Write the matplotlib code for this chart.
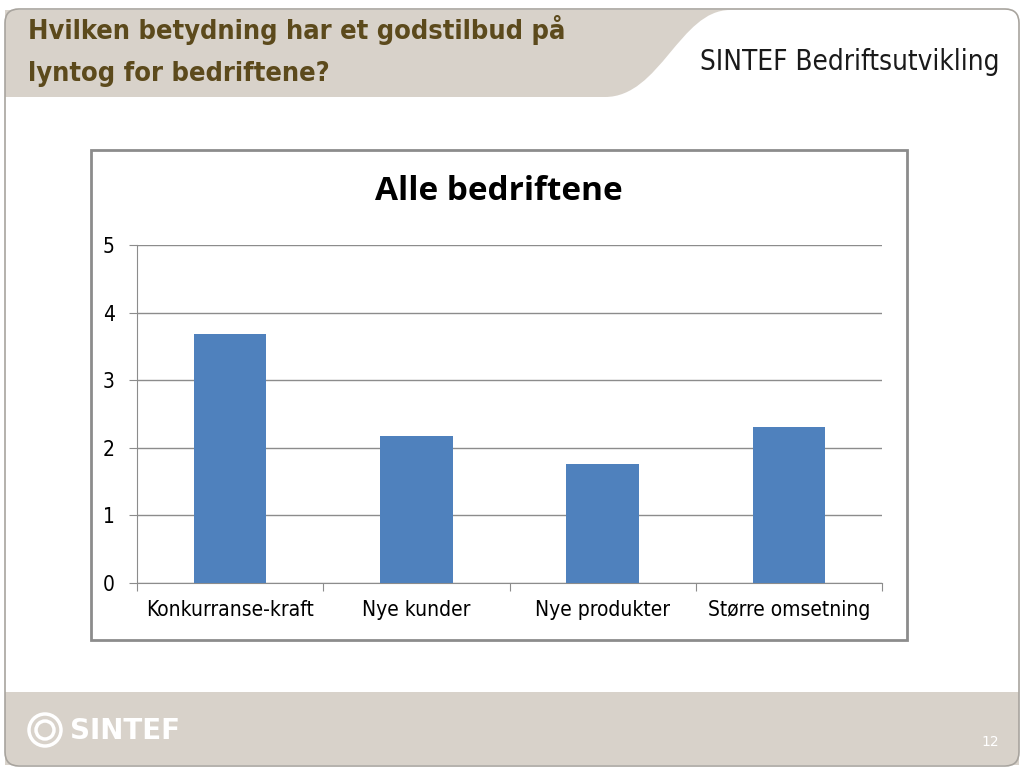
import matplotlib.pyplot as plt
from matplotlib.patches import FancyBboxPatch, Rectangle, Circle, PathPatch
from matplotlib.path import Path
import numpy as np

# data
categories = ['Konkurranse-kraft', 'Nye kunder', 'Nye produkter', 'Større omsetning']
values = [3.68, 2.17, 1.76, 2.31]
yticks = [0, 1, 2, 3, 4, 5]

slide_title = 'Hvilken betydning har et godstilbud på\nlyntog for bedriftene?'
chart_title = 'Alle bedriftene'

W, H = 1024, 771
fig = plt.figure(figsize=(W / 100, H / 100), dpi=100)
fig.patch.set_facecolor('white')

# background layer in pixel coords
bg = fig.add_axes([0, 0, 1, 1])
bg.set_xlim(0, W)
bg.set_ylim(H, 0)
bg.axis('off')

band = '#d8d2ca'
# header band with an S-shaped right edge
verts = [(5, 10), (730, 10), (680, 10), (660, 97), (605, 97), (5, 97), (5, 10)]
codes = [Path.MOVETO, Path.LINETO, Path.CURVE4, Path.CURVE4, Path.CURVE4,
         Path.LINETO, Path.CLOSEPOLY]
bg.add_patch(PathPatch(Path(verts, codes), facecolor=band, edgecolor='none'))
# footer band
bg.add_patch(Rectangle((5, 692), 1014, 73, facecolor=band, edgecolor='none'))
# slide border
bg.add_patch(FancyBboxPatch((5, 9), 1014, 757, boxstyle='round,pad=0,rounding_size=14',
                            facecolor='none', edgecolor='#a8a49e', linewidth=1.2))

bg.text(28, 51, slide_title, fontsize=19.5, fontweight='bold', color='#5c4a1c',
        family='DejaVu Sans', fontstretch='condensed', va='center', ha='left',
        linespacing=1.8)
bg.text(1000, 62, 'SINTEF Bedriftsutvikling', fontsize=20, color='#1a1a1a',
        family='DejaVu Sans', fontstretch='condensed', va='center', ha='right')

# footer logo
bg.add_patch(Circle((45, 730), 16, facecolor='none', edgecolor='white', linewidth=2.5))
bg.add_patch(Circle((45, 730), 9, facecolor='none', edgecolor='white', linewidth=2.5))
bg.text(70, 731, 'SINTEF', fontsize=20, fontweight='bold', color='white',
        family='DejaVu Sans', va='center', ha='left')
bg.text(990, 742, '12', fontsize=10, color='white',
        family='DejaVu Sans', va='center', ha='center')

# chart frame
bg.add_patch(Rectangle((91, 150), 816, 490, facecolor='white', edgecolor='#8c8c8c',
                       linewidth=2))
bg.text(499, 192, chart_title, fontsize=24, fontweight='bold', color='black',
        family=['Open Sans', 'DejaVu Sans'], va='center', ha='center')

# plot area
x0, x1, ytop, ybot = 137, 882, 245, 583
ax = fig.add_axes([x0 / W, 1 - ybot / H, (x1 - x0) / W, (ybot - ytop) / H])
ax.set_facecolor('none')
x = np.arange(len(categories))
ax.bar(x, values, width=0.39, color='#4f81bd', zorder=3)
ax.set_xlim(-0.5, len(categories) - 0.5)
ax.set_ylim(0, 5)
ax.set_yticks(yticks)
ax.yaxis.grid(True, color='#8c8c8c', linewidth=1)
ax.set_axisbelow(True)
for s in ['top', 'right']:
    ax.spines[s].set_visible(False)
ax.spines['left'].set_color('#8c8c8c')
ax.spines['bottom'].set_color('#8c8c8c')
ax.tick_params(axis='y', length=6, color='#8c8c8c', pad=10)
ax.set_xticks(np.arange(len(categories) + 1) - 0.5)
ax.set_xticklabels([])
ax.set_xticks(x, minor=True)
ax.set_xticklabels(categories, minor=True)
ax.tick_params(axis='x', which='major', length=6, color='#8c8c8c')
ax.tick_params(axis='x', which='minor', length=0, pad=12)
for lab in ax.get_xticklabels(minor=True) + ax.get_yticklabels():
    lab.set_family('DejaVu Sans')
    lab.set_fontstretch('condensed')
    lab.set_fontsize(15)

fig.savefig('out.png', dpi=100)
